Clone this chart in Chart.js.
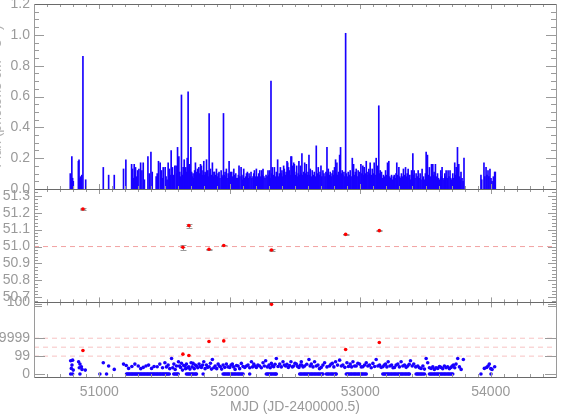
<!DOCTYPE html>
<html><head><meta charset="utf-8">
<script src="https://cdn.jsdelivr.net/npm/chart.js@4.4.1/dist/chart.umd.min.js"></script>
<style>html,body{margin:0;padding:0;background:#fff}#wrap{width:568px;height:419px;position:relative}</style>
</head><body><div id="wrap"><canvas id="c" width="568" height="419"></canvas></div>
<script>
// ---------- axis ranges and tick labels ----------
const xRange = [50500, 54500];
const xTickVals = [51000, 52000, 53000, 54000];
const xTitle = 'MJD (JD-2400000.5)';
const yTitle = 'Flux (photons cm\u207B\u00B2 s\u207B\u00B9)';
const topRange = [0, 1.2];
const topTickVals = [0, 0.2, 0.4, 0.6, 0.8, 1.0, 1.2];
const midRange = [50.67, 51.34];
const midTickVals = [50.7, 50.8, 50.9, 51.0, 51.1, 51.2, 51.3];
const botRange = [-0.33, 8.0];
const botTickVals = [0, 2, 4, 8];
const botTickLabels = ['0', '99', '9999', '100'];
const midRefLevels = [51.0];
const botRefLevels = [2, 3, 4];

// ---------- light curve (MJD, flux) ----------
const lcPoints = [
[50778,0.10],[50783,0.06],[50790,0.21],[50796,0.07],[50801,0.05],[50840,0.18],[50845,0.19],[50851,0.07],[50856,0.08],[50862,0.05],[50866,0.09],[50875,0.86],[50896,0.06],
[51031,0.14],[51072,0.09],[51115,0.09],
[51186,0.13],[51204,0.19],[51248,0.16],[51255,0.13],[51262,0.07],[51268,0.16],[51278,0.14],[51286,0.08],[51294,0.12],[51304,0.13],[51317,0.17],[51327,0.12],[51337,0.17],[51346,0.06],[51373,0.21],[51383,0.10],[51396,0.24],[51406,0.11],[51436,0.08],[51444,0.10],[51454,0.18],[51467,0.17],[51477,0.12],[51484,0.07],[51490,0.14],[51505,0.14],[51512,0.08],[51520,0.06],[51528,0.17],[51538,0.13],[51545,0.09],[51551,0.25],[51561,0.14],[51570,0.09],[51579,0.15],[51589,0.15],[51595,0.10],[51600,0.27],[51610,0.21],[51617,0.11],[51622,0.08],
[51630,0.61],[51636,0.09],[51643,0.14],[51647,0.10],[51651,0.19],[51657,0.08],[51663,0.14],[51668,0.11],[51674,0.20],[51681,0.63],[51685,0.12],[51689,0.16],[51695,0.13],[51702,0.27],[51708,0.11],[51713,0.08],[51719,0.10],[51725,0.07],[51731,0.12],[51737,0.17],[51743,0.09],[51748,0.11],[51753,0.13],[51758,0.08],[51763,0.14],[51770,0.10],[51776,0.16],[51783,0.15],[51789,0.09],[51795,0.12],[51801,0.18],[51806,0.09],[51811,0.11],[51817,0.10],[51822,0.19],[51827,0.09],[51832,0.12],[51837,0.08],[51842,0.49],[51847,0.10],[51852,0.13],[51860,0.09],[51867,0.17],[51874,0.08],[51879,0.11],[51883,0.11],[51890,0.09],[51898,0.13],[51904,0.08],[51911,0.10],[51918,0.11],[51925,0.07],[51934,0.12],[51940,0.09],[51946,0.08],[51952,0.49],[51958,0.09],[51964,0.11],[51969,0.08],[51974,0.13],[51980,0.07],[51988,0.10],[51995,0.18],[52000,0.08],[52005,0.11],[52010,0.09],[52015,0.11],[52022,0.08],[52031,0.13],[52038,0.09],[52046,0.10],[52053,0.07],[52061,0.07],[52066,0.09],[52071,0.15],[52078,0.08],[52087,0.14],[52093,0.09],[52099,0.06],[52103,0.08],[52107,0.13],[52114,0.07],[52122,0.08],[52128,0.10],[52135,0.11],[52141,0.07],[52148,0.10],[52155,0.08],[52163,0.11],[52170,0.07],[52178,0.08],[52184,0.10],[52189,0.12],[52196,0.08],[52204,0.13],[52209,0.07],[52214,0.08],[52222,0.10],[52230,0.12],[52237,0.08],[52245,0.12],[52250,0.09],[52255,0.13],[52262,0.08],[52270,0.07],[52278,0.09],[52286,0.08],[52293,0.12],[52300,0.09],[52306,0.12],[52311,0.07],[52316,0.70],[52321,0.10],[52326,0.14],[52334,0.09],[52342,0.14],[52349,0.08],[52357,0.11],[52362,0.09],[52367,0.19],
[52374,0.08],[52381,0.10],[52388,0.14],[52395,0.10],[52400,0.12],[52406,0.08],[52413,0.15],[52418,0.13],[52425,0.09],[52432,0.11],[52439,0.18],[52444,0.17],[52451,0.14],[52457,0.12],[52463,0.09],[52469,0.21],[52474,0.21],[52480,0.15],[52485,0.10],[52490,0.17],[52495,0.16],[52502,0.09],[52510,0.11],[52513,0.15],[52520,0.08],[52525,0.10],[52530,0.18],[52536,0.09],[52541,0.15],[52547,0.10],[52553,0.23],[52559,0.09],[52566,0.11],[52574,0.17],[52580,0.10],[52587,0.16],[52594,0.09],[52600,0.11],[52607,0.22],[52612,0.09],[52617,0.13],[52624,0.08],[52632,0.12],[52640,0.09],[52648,0.11],[52655,0.08],[52663,0.28],[52670,0.10],[52678,0.14],[52685,0.09],[52692,0.11],[52699,0.15],[52706,0.08],[52714,0.12],[52722,0.10],[52730,0.08],[52737,0.11],[52745,0.27],[52750,0.10],[52755,0.13],[52762,0.09],[52770,0.11],[52777,0.08],[52784,0.10],[52791,0.12],[52797,0.09],[52803,0.14],[52811,0.19],[52816,0.10],[52821,0.17],[52827,0.09],[52834,0.11],[52842,0.22],[52849,0.27],[52855,0.10],[52862,0.12],[52868,0.09],[52875,0.11],[52882,0.08],[52888,1.01],[52894,0.10],[52901,0.08],[52908,0.11],[52915,0.09],[52923,0.12],[52930,0.08],[52939,0.20],[52944,0.11],[52949,0.16],[52956,0.09],[52962,0.11],[52969,0.13],[52976,0.08],[52984,0.12],[52990,0.09],[52997,0.11],[53005,0.16],[53012,0.10],[53020,0.15],[53025,0.09],[53030,0.14],[53038,0.10],[53046,0.18],[53052,0.09],[53059,0.11],[53066,0.13],[53071,0.10],[53076,0.17],[53084,0.09],[53092,0.13],[53100,0.10],[53107,0.17],[53114,0.09],[53122,0.20],[53127,0.11],[53132,0.15],[53137,0.09],[53142,0.54],[53148,0.10],[53153,0.12],[53158,0.08],[53163,0.11],[53170,0.07],[53178,0.09],[53186,0.08],[53194,0.12],[53201,0.09],[53209,0.17],[53214,0.10],[53219,0.18],[53226,0.08],[53233,0.07],[53240,0.09],[53248,0.06],[53254,0.08],[53260,0.09],[53267,0.07],[53274,0.10],[53280,0.17],[53287,0.09],[53296,0.14],[53303,0.08],[53310,0.07],[53316,0.10],[53324,0.08],[53331,0.13],[53338,0.09],[53347,0.14],[53354,0.08],[53360,0.10],[53367,0.13],[53374,0.07],[53380,0.09],[53386,0.06],[53393,0.12],[53398,0.08],[53403,0.23],[53408,0.09],[53413,0.12],[53420,0.07],[53428,0.10],[53436,0.08],[53444,0.12],[53451,0.07],[53459,0.10],[53466,0.06],[53474,0.13],[53480,0.07],[53484,0.08],[53491,0.06],[53499,0.10],[53505,0.24],[53510,0.12],[53515,0.22],[53522,0.09],[53530,0.14],[53538,0.08],[53546,0.16],[53551,0.10],[53556,0.16],[53561,0.09],[53566,0.11],[53571,0.08],[53576,0.16],[53584,0.08],[53592,0.10],[53600,0.07],[53609,0.06],[53617,0.12],[53622,0.08],[53627,0.14],[53634,0.07],[53641,0.06],[53648,0.10],[53653,0.08],[53658,0.12],[53666,0.07],[53673,0.12],[53680,0.08],[53688,0.12],[53694,0.07],[53701,0.06],[53709,0.10],[53716,0.07],[53724,0.17],[53730,0.09],[53735,0.14],[53740,0.10],[53745,0.27],[53750,0.09],[53755,0.16],[53762,0.08],[53767,0.06],[53772,0.11],[53780,0.07],[53788,0.05],[53795,0.20],
[53925,0.09],[53931,0.06],[53948,0.17],[53955,0.08],[53964,0.14],[53971,0.09],[53979,0.12],[53986,0.08],[53994,0.13],[54002,0.07],[54010,0.05],[54020,0.08],[54030,0.11],[54035,0.11]
];

// ---------- bottom panel: blue detections (MJD, log level) ----------
const sigPoints = [
[50781,1.48],[50786,0.63],[50791,1.0],[50796,1.55],[50801,0.44],[50842,1.37],[50847,0.7],[50852,1.11],[50863,0.81],[50868,0.52],[50893,0.44],
[51031,1.26],[51072,0.89],[51115,0.52],
[51186,1.11],[51207,0.96],[51225,0.63],[51250,0.85],[51273,1.11],[51299,0.89],[51318,0.6],[51337,0.74],[51358,0.9],[51378,1.0],[51401,0.63],[51420,0.85],[51444,0.81],[51464,1.11],[51485,0.7],[51503,1.26],[51515,0.8],[51528,1.0],[51540,0.6],[51554,1.74],[51563,0.7],[51572,1.11],[51582,0.5],[51592,0.89],[51607,1.37],[51615,0.9],[51623,0.74],[51630,1.2],[51638,0.44],[51647,0.95],[51656,0.89],[51662,0.6],[51668,1.11],[51677,0.7],[51686,0.81],[51695,0.55],[51704,1.26],[51712,0.8],[51719,1.19],[51728,0.6],[51736,1.0],[51745,0.89],[51755,0.7],[51765,1.11],[51774,0.85],[51783,0.74],[51792,1.0],[51801,1.37],[51811,0.6],[51821,1.0],[51831,0.75],[51842,0.81],[51852,1.2],[51860,0.55],[51867,1.63],[51878,0.7],[51888,0.89],[51900,0.6],[51911,1.11],[51920,0.9],[51928,0.81],[51938,0.55],[51949,1.0],[51962,0.75],[51974,1.11],[51987,0.8],[52000,0.74],[52010,1.0],[52020,1.11],[52030,0.8],[52041,0.52],[52052,0.95],[52064,0.89],[52076,0.6],[52089,1.19],[52102,0.85],[52115,0.74],[52128,0.9],[52140,1.0],[52153,0.7],[52166,1.37],[52175,0.8],[52184,1.11],[52194,0.9],[52204,0.74],[52216,1.0],[52229,0.89],[52242,0.7],[52255,1.26],[52265,0.9],[52275,1.48],[52288,0.8],[52301,1.0],[52310,0.7],[52319,1.19],[52328,0.9],[52337,0.81],[52347,1.1],[52357,1.74],[52370,0.85],[52383,1.11],[52395,0.8],[52408,1.37],[52418,1.0],[52428,0.89],[52438,1.1],[52449,0.74],[52459,0.95],[52469,1.37],[52480,0.8],[52490,0.89],[52500,1.2],[52510,1.11],[52520,0.85],[52530,0.74],[52540,1.0],[52548,1.37],[52551,1.0],[52562,0.8],[52574,0.89],[52590,1.1],[52607,1.63],[52616,0.9],[52625,1.11],[52638,0.8],[52650,1.37],[52663,0.9],[52676,1.0],[52688,0.6],[52701,0.74],[52714,1.0],[52727,1.26],[52745,0.8],[52765,0.89],[52775,1.1],[52786,1.19],[52798,0.8],[52811,1.37],[52826,1.0],[52842,1.55],[52855,0.9],[52867,1.0],[52882,0.75],[52898,1.26],[52910,0.85],[52923,1.11],[52934,0.8],[52944,1.37],[52957,0.9],[52969,0.89],[52982,1.2],[52995,1.11],[53008,0.8],[53020,0.81],[53033,1.0],[53046,1.26],[53058,0.9],[53071,1.0],[53084,0.7],[53097,1.19],[53110,0.85],[53122,1.63],[53135,0.9],[53148,1.0],[53160,0.75],[53173,0.81],[53184,1.0],[53194,1.11],[53204,0.8],[53214,1.37],[53227,0.9],[53240,1.0],[53251,0.7],[53262,0.74],[53275,1.0],[53288,1.11],[53300,0.8],[53313,1.37],[53326,0.9],[53339,1.0],[53352,0.75],[53364,0.89],[53375,1.1],[53385,1.48],[53398,0.9],[53410,1.11],[53425,0.8],[53441,0.89],[53453,0.7],[53466,0.63],[53480,0.9],[53492,0.55],[53505,1.74],[53517,1.26],[53530,0.7],[53543,0.63],[53556,0.8],[53568,0.52],[53581,0.7],[53594,0.63],[53607,0.85],[53619,0.74],[53632,0.6],[53645,0.89],[53658,0.7],[53670,0.81],[53683,0.6],[53696,0.74],[53705,0.9],[53714,1.0],[53724,0.7],[53734,1.11],[53747,1.74],[53760,0.8],[53773,0.52],[53790,1.63],
[53951,0.63],[53969,0.74],[53980,0.9],[53989,1.11],[54000,0.6],[54010,0.52],[54030,0.81]
];
// bottom panel: blue points at level 0 (MJD)
const zeroMJD = [
50781,50796,50852,51005,51056,
51209,51216,51225,51232,51241,51249,51256,51265,51273,51280,51289,51297,51304,51313,51321,51328,51337,51345,51352,51361,51369,51376,51385,51393,51400,51409,51417,51424,51433,51441,51448,51457,51465,51472,51481,51489,51496,51505,51513,51520,51529,51537,
51571,51580,51589,51598,51605,
51668,51677,51686,51694,51704,51713,51721,51731,51740,51745,
51796,
51949,51958,51966,51976,51985,51993,52003,52012,52020,52030,52039,52047,52057,52066,52074,52084,52093,52102,
52153,
52280,52289,52297,52307,52316,52324,52334,52343,52351,52357,
52536,52545,52553,52563,52572,52580,52590,52599,52607,52617,52626,52634,52644,52653,52661,52671,52680,52688,52698,52707,52714,
52740,52750,52759,52770,52780,52789,52800,52810,52816,
52893,52902,52910,52920,52929,52937,52947,52956,52964,52974,52983,52991,53001,53010,53018,53028,53037,53046,
53173,53182,53190,53200,53209,53217,53227,53236,53244,53254,53263,53271,53281,53290,53298,53308,53317,53325,53335,53344,53352,53362,53371,53377,
53428,53437,53445,53455,53464,53472,53482,53492,
53530,53539,53547,53557,53566,53574,53584,53593,53601,53611,53620,53628,53638,53647,53655,53665,53674,53682,53692,53701,53709,
53925,54002
];

// ---------- red points (middle and bottom panels) ----------
const redMJD    = [50875, 51641, 51687, 51841, 51954, 52320, 52888, 53146];
const redMJDErr = [20, 20, 20, 20, 20, 20, 20, 20];
const redMid    = [51.222, 50.996, 51.124, 50.984, 51.006, 50.980, 51.072, 51.094];
const redMidErr = [0.004, 0.015, 0.012, 0.004, 0.004, 0.004, 0.004, 0.004];
const redBot    = [2.63, 2.22, 2.07, 3.63, 3.70, 7.78, 2.74, 3.52];

// ---------- styles ----------
const GRAY = '#9a9a9a';
const BLUE = '#1800ff';
const RED = '#ff0000';

const framePlugin = {
  id: 'frame',
  afterDatasetsDraw(chart) {
    const ctx = chart.ctx, xs = chart.scales.x;
    const L = chart.chartArea.left, R = chart.chartArea.right;
    const panels = [
      {s: chart.scales.yTop, major: topTickVals, minorStep: 0.05, majL: 10, minL: 5, extra: []},
      {s: chart.scales.yMid, major: midTickVals, minorStep: 0.02, majL: 8, minL: 4, extra: []},
      {s: chart.scales.yBot, major: botTickVals, minorStep: null, majL: 11, minL: 8, extra: [7.6, 7.8]}
    ];
    ctx.save();
    ctx.lineWidth = 1;
    ctx.strokeStyle = GRAY;
    ctx.beginPath();
    const hTick = (y, len) => {
      const yy = Math.round(y) + 0.5;
      ctx.moveTo(L, yy); ctx.lineTo(L + len, yy);
      ctx.moveTo(R, yy); ctx.lineTo(R - len, yy);
    };
    panels.forEach(p => {
      const s = p.s;
      if (p.minorStep) {
        const n0 = Math.ceil(s.min / p.minorStep - 1e-6), n1 = Math.floor(s.max / p.minorStep + 1e-6);
        for (let n = n0; n <= n1; n++) hTick(s.getPixelForValue(n * p.minorStep), p.minL);
      }
      p.extra.forEach(v => hTick(s.getPixelForValue(v), p.minL));
      p.major.forEach(v => hTick(s.getPixelForValue(v), p.majL));
    });
    for (let v = xRange[0]; v <= xRange[1]; v += 100) {
      const x = Math.round(xs.getPixelForValue(v)) + 0.5;
      const len = (v % 1000 === 0) ? 5 : 3;
      panels.forEach(p => {
        ctx.moveTo(x, p.s.top); ctx.lineTo(x, p.s.top + len);
        ctx.moveTo(x, p.s.bottom); ctx.lineTo(x, p.s.bottom - len);
      });
    }
    ctx.stroke();
    // frame lines
    ctx.beginPath();
    ctx.strokeStyle = '#6a6a6a';
    const ys = [panels[0].s.top, panels[1].s.top, panels[2].s.top, panels[2].s.bottom];
    ys.forEach(y => { const yy = Math.round(y) + 0.5; ctx.moveTo(L, yy); ctx.lineTo(R + 1, yy); });
    ctx.stroke();
    ctx.beginPath();
    ctx.strokeStyle = '#9a9a9a';
    [L, R].forEach(x => { const xx = Math.round(x) + 0.5; ctx.moveTo(xx, panels[0].s.top); ctx.lineTo(xx, panels[2].s.bottom + 1); });
    ctx.stroke();
    // rotated y title of top panel (mostly off-canvas, as in the original)
    ctx.fillStyle = '#b0b0b0';
    ctx.font = '14px "Liberation Sans"';
    ctx.translate(0.5, (panels[0].s.top + panels[0].s.bottom) / 2);
    ctx.rotate(-Math.PI / 2);
    ctx.textAlign = 'center';
    ctx.textBaseline = 'alphabetic';
    ctx.fillText(yTitle, 0, 0);
    ctx.restore();
  }
};

const errPlugin = {
  id: 'errbars',
  beforeDatasetsDraw(chart) {
    const ctx = chart.ctx, xs = chart.scales.x, ys = chart.scales.yMid;
    ctx.save();
    ctx.strokeStyle = GRAY;
    ctx.lineWidth = 1;
    ctx.beginPath();
    redMJD.forEach((m, i) => {
      const x = Math.round(xs.getPixelForValue(m)) + 0.5;
      const y = Math.round(ys.getPixelForValue(redMid[i])) + 0.5;
      const x0 = xs.getPixelForValue(m - redMJDErr[i]), x1 = xs.getPixelForValue(m + redMJDErr[i]);
      const y0 = Math.round(ys.getPixelForValue(redMid[i] - redMidErr[i])) + 0.5;
      const y1 = Math.round(ys.getPixelForValue(redMid[i] + redMidErr[i])) + 0.5;
      ctx.moveTo(x0, y); ctx.lineTo(x1, y);
      ctx.moveTo(x, y0); ctx.lineTo(x, y1);
      ctx.moveTo(x - 3, y0); ctx.lineTo(x + 3, y0);
      ctx.moveTo(x - 3, y1); ctx.lineTo(x + 3, y1);
    });
    ctx.stroke();
    ctx.restore();
  }
};

const refLine = (lvl, axis, color) => ({
  type: 'line', yAxisID: axis, xAxisID: 'x', order: 5,
  data: [{x: xRange[0], y: lvl}, {x: xRange[1], y: lvl}],
  borderColor: color, borderWidth: 1, borderDash: [5, 4], pointRadius: 0, fill: false
});

Chart.defaults.font.family = '"Liberation Sans", Arial, sans-serif';
Chart.defaults.color = GRAY;

const yAxisCommon = {
  type: 'linear', position: 'left', stack: 'panels', offset: false,
  grid: {display: false, drawTicks: false}, border: {display: false},
  afterFit(s) { s.width = 34; s.paddingTop = 0; s.paddingBottom = 0; }
};

new Chart(document.getElementById('c'), {
  type: 'scatter',
  data: {
    datasets: [
      {type: 'bar', xAxisID: 'x', yAxisID: 'yTop', order: 10,
       data: lcPoints.map(p => ({x: p[0], y: p[1]})),
       backgroundColor: BLUE, borderWidth: 0, barThickness: 1},
      ...midRefLevels.map(l => refLine(l, 'yMid', '#f2a2a2')),
      ...botRefLevels.map(l => refLine(l, 'yBot', '#f7c2c2')),
      {type: 'scatter', xAxisID: 'x', yAxisID: 'yBot', order: 3,
       data: zeroMJD.map(m => ({x: m, y: 0})),
       pointRadius: 1.8, pointBackgroundColor: BLUE, pointBorderWidth: 0},
      {type: 'scatter', xAxisID: 'x', yAxisID: 'yBot', order: 3,
       data: sigPoints.map(p => ({x: p[0], y: p[1]})),
       pointRadius: 1.8, pointBackgroundColor: BLUE, pointBorderWidth: 0},
      {type: 'scatter', xAxisID: 'x', yAxisID: 'yMid', order: 1,
       data: redMJD.map((m, i) => ({x: m, y: redMid[i]})),
       pointRadius: 1.8, pointBackgroundColor: RED, pointBorderWidth: 0},
      {type: 'scatter', xAxisID: 'x', yAxisID: 'yBot', order: 1,
       data: redMJD.map((m, i) => ({x: m, y: redBot[i]})),
       pointRadius: 1.8, pointBackgroundColor: RED, pointBorderWidth: 0}
    ]
  },
  options: {
    responsive: false, animation: false, devicePixelRatio: 1, events: [],
    layout: {padding: {left: 0, right: 12, top: 2, bottom: 0}},
    plugins: {legend: {display: false}, tooltip: {enabled: false}},
    scales: {
      x: {
        type: 'linear', position: 'bottom', min: xRange[0], max: xRange[1], offset: false,
        grid: {display: false, drawTicks: false, offset: false}, border: {display: false},
        afterBuildTicks(s) { s.ticks = xTickVals.map(v => ({value: v})); },
        ticks: {autoSkip: false, maxRotation: 0, padding: 7, color: GRAY, font: {size: 14}, callback: v => String(v)},
        title: {display: true, text: xTitle, color: GRAY, font: {size: 14}, padding: {top: 0, bottom: 3}},
        afterFit(s) { s.height = 42; s.paddingLeft = 0; s.paddingRight = 0; }
      },
      yBot: Object.assign({}, yAxisCommon, {
        stackWeight: 75, min: botRange[0], max: botRange[1],
        afterBuildTicks(s) { s.ticks = botTickVals.map(v => ({value: v})); },
        ticks: {autoSkip: false, padding: 4, color: GRAY, font: {size: 14},
                callback: v => botTickLabels[botTickVals.indexOf(v)]}
      }),
      yMid: Object.assign({}, yAxisCommon, {
        stackWeight: 114, min: midRange[0], max: midRange[1],
        afterBuildTicks(s) { s.ticks = midTickVals.map(v => ({value: v})); },
        ticks: {autoSkip: false, padding: 4, color: GRAY, font: {size: 14}, callback: v => v.toFixed(1)}
      }),
      yTop: Object.assign({}, yAxisCommon, {
        stackWeight: 186, min: topRange[0], max: topRange[1],
        afterBuildTicks(s) { s.ticks = topTickVals.map(v => ({value: v})); },
        ticks: {autoSkip: false, padding: 4, color: GRAY, font: {size: 14}, callback: v => v.toFixed(1)}
      })
    }
  },
  plugins: [errPlugin, framePlugin]
});
</script>
</body></html>
